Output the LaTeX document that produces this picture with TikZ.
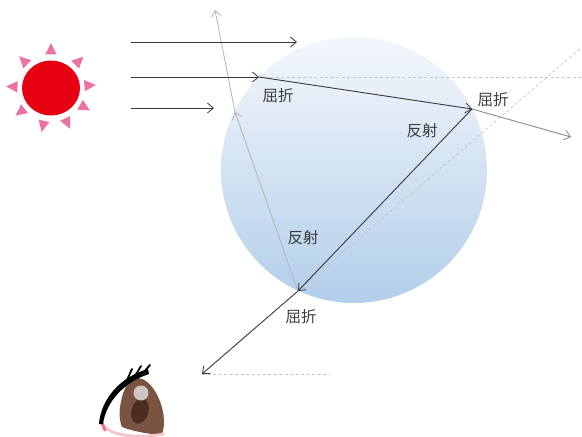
\documentclass[tikz,border=0pt]{standalone}
\usepackage{fontspec}
\newfontfamily\jpfont{Noto Sans CJK JP}
\usetikzlibrary{arrows.meta}

\definecolor{rayblack}{HTML}{383838}
\definecolor{raygray}{HTML}{8C8C8C}
\definecolor{raylight}{HTML}{B4B4B4}
\definecolor{guide}{HTML}{C4C4C4}
\definecolor{droptop}{HTML}{F4F7FC}
\definecolor{dropbottom}{HTML}{B2CEEA}
\definecolor{sunred}{HTML}{E60012}
\definecolor{sunpink}{HTML}{EA72A4}
\definecolor{iris}{HTML}{7A5440}
\definecolor{pupil}{HTML}{4A2E20}
\definecolor{glint}{HTML}{CEC6C2}
\definecolor{lidpink}{HTML}{F6C6CC}
\definecolor{lidred}{HTML}{EE6E86}
\definecolor{labeltext}{HTML}{3C3C3C}

\tikzset{
  tipopen/.tip={Straight Barb[length=6pt,width=10pt,line width=0.8pt]},
  ray/.style={draw=rayblack,line width=0.9pt,-tipopen},
  rayout/.style={draw=raygray,line width=0.9pt,-tipopen},
  rayfaint/.style={draw=raylight,line width=0.8pt,-tipopen},
  guideline/.style={draw=guide,line width=0.7pt,dash pattern=on 3pt off 2.5pt},
  lbl/.style={font=\jpfont\fontsize{15.5}{16}\selectfont,text=labeltext,inner sep=0pt},
}

\begin{document}
\begin{tikzpicture}[x=1pt,y=-1pt]
\useasboundingbox (0,0) rectangle (582,437);

% water drop
\shade[top color=droptop,bottom color=dropbottom] (354,170) circle[radius=133];

% key points of the ray path
\coordinate (P1) at (259,77);   % entry
\coordinate (P2) at (472,109);  % inner reflection
\coordinate (P3) at (298,291);  % exit
\coordinate (Pe) at (235,112);  % second ray leaving the drop
\coordinate (s1) at (131,42);  \coordinate (t1) at (297,42);
\coordinate (s2) at (131,77);
\coordinate (s3) at (131,108); \coordinate (t3) at (214,108);
\coordinate (o2) at (571,137);
\coordinate (o3) at (202,374);
\coordinate (e1) at (215,10);
\coordinate (g1) at (582,77);
\coordinate (g2) at (582,47);
\coordinate (g3) at (330,374);

% guide lines
\draw[guideline] (P1) -- (g1);
\draw[guideline] (P3) -- (g2);
\draw[guideline] (o3) -- (g3);

% faint secondary ray
\draw[rayfaint] (P3) -- (Pe);
\draw[rayfaint] (Pe) -- (e1);

% sunlight
\draw[ray] (s1) -- (t1);
\draw[ray] (s2) -- (P1);
\draw[ray] (s3) -- (t3);

% path through the drop
\draw[ray] (P1) -- (P2);
\draw[rayout] (P2) -- (o2);
\draw[ray] (P2) -- (P3);
\draw[ray] (P3) -- (o3);

% labels
\node[lbl] (l1) at (278,96) {屈折};
\node[lbl] (l2) at (493,100) {屈折};
\node[lbl] (l3) at (422,131) {反射};
\node[lbl] (l4) at (303,238) {反射};
\node[lbl] (l5) at (301,317) {屈折};

% sun
\begin{scope}[shift={(51,88)},yscale=-1]
  \fill[sunred] (0,0) ellipse[x radius=29,y radius=27.5];
  \foreach \a in {90,44,4,-30,-65,-102,-142,178,135}
    \fill[sunpink] (\a:45) -- (\a+9.5:34) -- (\a-9.5:34) -- cycle;
\end{scope}

% eye
\fill[iris] (121,402) .. controls (123,388) and (130,378) .. (138,378)
  .. controls (152,379) and (164,403) .. (164,422)
  .. controls (164,430) and (162,434) .. (161,435)
  .. controls (148,434) and (132,431) .. (122,427)
  .. controls (119,420) and (119,410) .. (121,402) -- cycle;
\fill[pupil,rotate around={-15:(140,411)}] (140,411) ellipse[x radius=8.5,y radius=13];
\fill[glint] (141,393) circle[radius=7.5];
\draw[lidpink,line width=2.8pt,line cap=round] (103,425) .. controls (112,437) and (140,438) .. (164,434);
\draw[lidred,line width=2.8pt,line cap=round] (101,421) -- (105,430);
\fill[black] (99,424) .. controls (101,399) and (120,377) .. (148,369)
  -- (149,374) .. controls (124,382) and (106,402) .. (103,424) -- cycle;
\draw[black,line width=1.8pt,line cap=round] (127,380) -- (132,369);
\draw[black,line width=1.8pt,line cap=round] (135,376) -- (141,366);
\draw[black,line width=1.8pt,line cap=round] (143,373) -- (150,365);
\end{tikzpicture}
\end{document}
